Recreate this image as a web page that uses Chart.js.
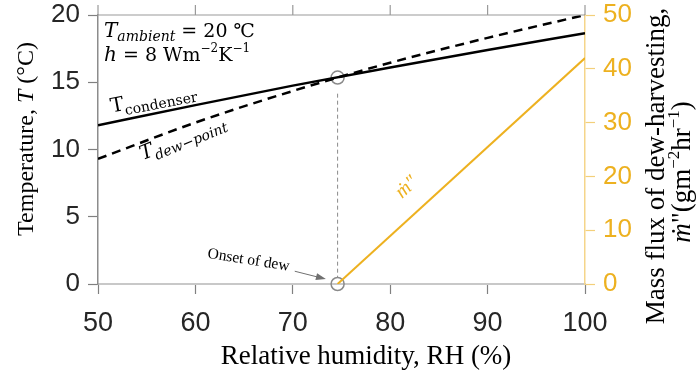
<!DOCTYPE html>
<html>
<head>
<meta charset="utf-8">
<script src="https://cdn.jsdelivr.net/npm/chart.js@4.4.1/dist/chart.umd.min.js"></script>
<style>
  html, body { margin: 0; padding: 0; background: #fff; }
  #wrap { width: 700px; height: 372px; }
</style>
</head>
<body>
<div id="wrap"><canvas id="dew-chart" width="700" height="372"></canvas></div>
<script>
// values
const humidity = [50, 60, 70, 80, 90, 100];
const condenserTemp = [11.8, 13.3, 14.75, 16.1, 17.4, 18.65];
const dewPointTemp = [9.3, 12.0, 14.35, 16.45, 18.3, 20.0];
const fluxHumidity = [74.6, 100];
const massFlux = [0, 42];
const onsetHumidity = 74.6;
const onsetTemp = [15.35, 0];
const xTicks = [50, 60, 70, 80, 90, 100];
const tempTicks = [0, 5, 10, 15, 20];
const fluxTicks = [0, 10, 20, 30, 40, 50];

const ORANGE = "#EDB120";
const SERIF = "'Liberation Serif', 'DejaVu Serif', serif";
const MATH = "'DejaVu Serif', 'Liberation Serif', serif";
const SANS = "'Liberation Sans', Arial, sans-serif";

function toPoints(xs, ys) {
  return xs.map((x, i) => ({ x: x, y: ys[i] }));
}

function fontOf(part) {
  return (part.italic ? "italic " : "") + part.size + "px " + (part.family || SERIF);
}

function drawRich(ctx, parts, x, y, angle, align) {
  ctx.save();
  ctx.translate(x, y);
  ctx.rotate(angle);
  ctx.textBaseline = "alphabetic";
  ctx.textAlign = "left";
  let total = 0;
  parts.forEach((p) => {
    ctx.font = fontOf(p);
    p.w = ctx.measureText(p.t).width;
    total += p.w;
  });
  let cx = align === "center" ? -total / 2 : 0;
  parts.forEach((p) => {
    ctx.font = fontOf(p);
    ctx.fillStyle = p.color || "#000";
    ctx.fillText(p.t, cx, p.dy || 0);
    cx += p.w;
  });
  ctx.restore();
}

function noOverflow(scale) {
  scale.paddingTop = 0;
  scale.paddingBottom = 0;
  scale.paddingLeft = 0;
  scale.paddingRight = 0;
}

const decorations = {
  id: "decorations",
  afterDraw(chart) {
    const ctx = chart.ctx;
    const xs = chart.scales.x;
    const ys = chart.scales.y;
    const y2 = chart.scales.y2;
    const area = chart.chartArea;

    // top frame with outward ticks
    ctx.save();
    ctx.strokeStyle = "#9a9a9a";
    ctx.lineWidth = 1.2;
    ctx.beginPath();
    ctx.moveTo(area.left, area.top);
    ctx.lineTo(area.right, area.top);
    xTicks.forEach((v) => {
      const px = xs.getPixelForValue(v);
      ctx.moveTo(px, area.top);
      ctx.lineTo(px, area.top - 10);
    });
    ctx.stroke();
    ctx.restore();

    // text box
    drawRich(ctx, [
      { t: "T", italic: true, size: 20, family: MATH },
      { t: "ambient", italic: true, size: 14, dy: 4, family: MATH },
      { t: " = 20 \u2103", size: 19, family: MATH },
    ], area.left + 6, 37, 0);
    drawRich(ctx, [
      { t: "h", italic: true, size: 20, family: MATH },
      { t: " = 8 Wm", size: 19, family: MATH },
      { t: "\u22122", size: 12, dy: -9, family: MATH },
      { t: "K", size: 19, family: MATH },
      { t: "\u22121", size: 12, dy: -9, family: MATH },
    ], area.left + 6, 61, 0);

    // curve labels
    const condAngle = Math.atan2(
      ys.getPixelForValue(condenserTemp[5]) - ys.getPixelForValue(condenserTemp[0]),
      xs.getPixelForValue(100) - xs.getPixelForValue(50)
    );
    drawRich(ctx, [
      { t: "T", size: 20, family: MATH },
      { t: "condenser", size: 14, dy: 5, family: MATH },
    ], xs.getPixelForValue(51.4), ys.getPixelForValue(12.75), condAngle);

    drawRich(ctx, [
      { t: "T", italic: true, size: 20, family: MATH },
      { t: "dew\u2212point", italic: true, size: 14, dy: 5, family: MATH },
    ], xs.getPixelForValue(54.6), ys.getPixelForValue(9.2), -22 * Math.PI / 180);

    const fluxAngle = Math.atan2(
      y2.getPixelForValue(massFlux[1]) - y2.getPixelForValue(massFlux[0]),
      xs.getPixelForValue(fluxHumidity[1]) - xs.getPixelForValue(fluxHumidity[0])
    );
    drawRich(ctx, [
      { t: "\u1E41\u2033", italic: true, size: 20, color: ORANGE },
    ], xs.getPixelForValue(81.2), y2.getPixelForValue(15.8), fluxAngle);

    // onset annotation
    drawRich(ctx, [
      { t: "Onset of dew", size: 15.5 },
    ], xs.getPixelForValue(61.2), ys.getPixelForValue(1.95), 9 * Math.PI / 180);
    const ax0 = xs.getPixelForValue(70.2), ay0 = ys.getPixelForValue(0.95);
    const ax1 = xs.getPixelForValue(73.2), ay1 = ys.getPixelForValue(0.4);
    ctx.save();
    ctx.strokeStyle = "#707070";
    ctx.fillStyle = "#707070";
    ctx.lineWidth = 1;
    ctx.beginPath();
    ctx.moveTo(ax0, ay0);
    ctx.lineTo(ax1, ay1);
    ctx.stroke();
    const a = Math.atan2(ay1 - ay0, ax1 - ax0);
    ctx.beginPath();
    ctx.moveTo(ax1 + 2 * Math.cos(a), ay1 + 2 * Math.sin(a));
    ctx.lineTo(ax1 - 8 * Math.cos(a) + 3.5 * Math.sin(a), ay1 - 8 * Math.sin(a) - 3.5 * Math.cos(a));
    ctx.lineTo(ax1 - 8 * Math.cos(a) - 3.5 * Math.sin(a), ay1 - 8 * Math.sin(a) + 3.5 * Math.cos(a));
    ctx.closePath();
    ctx.fill();
    ctx.restore();

    // axis titles
    drawRich(ctx, [
      { t: "Temperature, ", size: 24 },
      { t: "T", italic: true, size: 24 },
      { t: " (\u00B0C)", size: 24 },
    ], 33, 139, -Math.PI / 2, "center");
    drawRich(ctx, [
      { t: "Relative humidity, RH (%)", size: 27 },
    ], 366, 364, 0, "center");
    drawRich(ctx, [
      { t: "Mass flux of dew-harvesting,", size: 27 },
    ], 664, 166, -Math.PI / 2, "center");
    drawRich(ctx, [
      { t: "\u1E41", italic: true, size: 27 },
      { t: "\"(gm", size: 27 },
      { t: "\u22122", size: 17, dy: -11 },
      { t: "hr", size: 27 },
      { t: "\u22121", size: 17, dy: -11 },
      { t: ")", size: 27 },
    ], 690, 172, -Math.PI / 2, "center");
  },
};

new Chart(document.getElementById("dew-chart"), {
  type: "line",
  data: {
    datasets: [
      {
        label: "T condenser",
        data: toPoints(humidity, condenserTemp),
        borderColor: "#000",
        borderWidth: 2.5,
        pointRadius: 0,
        cubicInterpolationMode: "monotone",
        yAxisID: "y",
      },
      {
        label: "T dew-point",
        data: toPoints(humidity, dewPointTemp),
        borderColor: "#000",
        borderWidth: 2.5,
        borderDash: [9, 6],
        pointRadius: 0,
        cubicInterpolationMode: "monotone",
        yAxisID: "y",
      },
      {
        label: "mass flux",
        data: toPoints(fluxHumidity, massFlux),
        borderColor: ORANGE,
        borderWidth: 2,
        pointRadius: 0,
        yAxisID: "y2",
      },
      {
        label: "onset guide",
        data: [
          { x: onsetHumidity, y: onsetTemp[0] - 1.2 },
          { x: onsetHumidity, y: onsetTemp[1] + 0.5 },
        ],
        borderColor: "#8a8a8a",
        borderWidth: 1,
        borderDash: [4, 3],
        pointRadius: 0,
        yAxisID: "y",
      },
      {
        label: "onset",
        data: toPoints([onsetHumidity, onsetHumidity], onsetTemp),
        showLine: false,
        pointRadius: 6.5,
        pointBorderWidth: 1.5,
        pointBorderColor: "#8a8a8a",
        pointBackgroundColor: "rgba(0,0,0,0)",
        clip: false,
        yAxisID: "y",
      },
    ],
  },
  options: {
    responsive: false,
    animation: false,
    devicePixelRatio: 1,
    layout: { padding: { top: 15, left: 0, right: 0, bottom: 0 } },
    plugins: {
      legend: { display: false },
      tooltip: { enabled: false },
    },
    scales: {
      x: {
        type: "linear",
        position: "bottom",
        min: 50,
        max: 100,
        afterBuildTicks: (scale) => {
          scale.ticks = xTicks.map((v) => ({ value: v }));
        },
        afterFit: (scale) => {
          scale.height = 88;
          noOverflow(scale);
        },
        grid: { drawOnChartArea: false, tickLength: 10, tickColor: "#808080", tickWidth: 1.2 },
        border: { color: "#c8c8c8", width: 2 },
        ticks: { color: "#262626", font: { family: SANS, size: 27 }, padding: 13, maxRotation: 0 },
      },
      y: {
        type: "linear",
        position: "left",
        min: 0,
        max: 20,
        afterBuildTicks: (scale) => {
          scale.ticks = tempTicks.map((v) => ({ value: v }));
        },
        afterFit: (scale) => {
          scale.width = 98;
          noOverflow(scale);
        },
        grid: { drawOnChartArea: false, tickLength: 10, tickColor: "#808080", tickWidth: 1.2 },
        border: { color: "#8c8c8c", width: 1.5 },
        ticks: { color: "#262626", font: { family: SANS, size: 26 }, padding: 8 },
      },
      y2: {
        type: "linear",
        position: "right",
        min: 0,
        max: 50,
        afterBuildTicks: (scale) => {
          scale.ticks = fluxTicks.map((v) => ({ value: v }));
        },
        afterFit: (scale) => {
          scale.width = 115;
          noOverflow(scale);
        },
        grid: { drawOnChartArea: false, tickLength: 10, tickColor: "#F3CF7A", tickWidth: 1.2 },
        border: { color: "#F5D58A", width: 1.5 },
        ticks: { color: ORANGE, font: { family: SANS, size: 26 }, padding: 8 },
      },
    },
  },
  plugins: [decorations],
});
</script>
</body>
</html>
